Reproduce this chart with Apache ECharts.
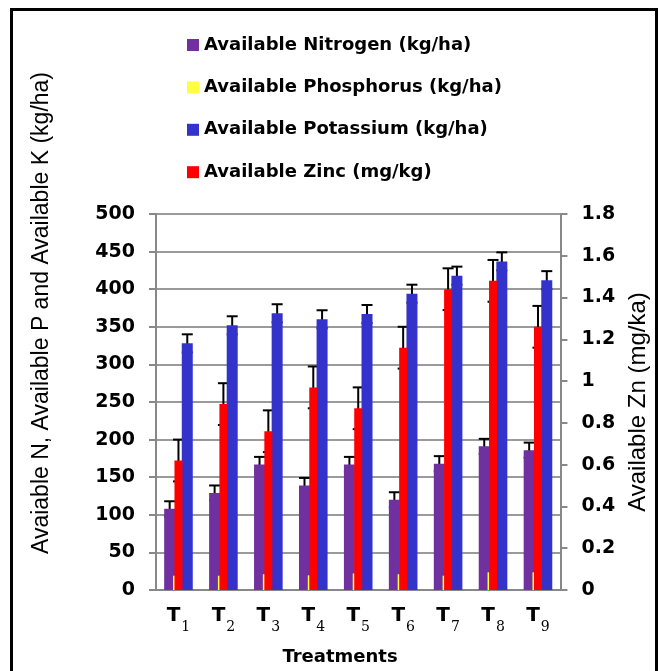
<!DOCTYPE html>
<html>
<head>
<meta charset="utf-8">
<script src="https://cdn.jsdelivr.net/npm/echarts@6/dist/echarts.min.js"></script>
<style>
  html, body { margin: 0; padding: 0; background: #fff; }
  #chart { width: 658px; height: 671px; }
</style>
</head>
<body>
<div id="chart"></div>
<script>
// ---- data ----
const categories = ['T1', 'T2', 'T3', 'T4', 'T5', 'T6', 'T7', 'T8', 'T9'];
const nitrogen   = [108, 129, 167, 139, 167, 120, 168, 191, 186];
const nitrogenErr = [10, 10, 10, 10, 10, 10, 10, 10, 10];
const phosphorus = [19, 19, 21, 19.5, 22, 21, 19, 23.5, 23.5];
const phosphorusErr = [2, 2, 2, 2, 2.5, 2, 2.5, 2, 2];
const potassium  = [328, 352, 368, 360, 367, 394, 418, 437, 412];
const potassiumErr = [12, 12, 12, 12, 12, 12, 12, 12, 12];
const zinc       = [0.62, 0.89, 0.76, 0.97, 0.87, 1.16, 1.44, 1.48, 1.26];
const zincErr    = [0.1, 0.1, 0.1, 0.1, 0.1, 0.1, 0.1, 0.1, 0.1];
const leftTicks  = { min: 0, max: 500, interval: 50 };
const rightTicks = { min: 0, max: 1.8, interval: 0.2 };
const seriesNames = [
  'Available Nitrogen (kg/ha)',
  'Available Phosphorus (kg/ha)',
  'Available Potassium (kg/ha)',
  'Available Zinc (mg/kg)'
];

// ---- styling ----
const BAR_W = 11, BAR_GAP = -0.2, ZN_W = 8;
const STEP = BAR_W * (1 + BAR_GAP);
const colors = ['#7030A0', '#FFFF40', '#3333CC', '#FF0000'];
const gridColor = '#9a9a9a';
const axisColor = '#888888';

function errData(vals, errs) {
  return vals.map((v, i) => [i, v - errs[i], v + errs[i]]);
}
function errRender(offset, half) {
  return function (params, api) {
    const lo = api.coord([api.value(0), api.value(1)]);
    const hi = api.coord([api.value(0), api.value(2)]);
    const cx = lo[0] + offset;
    const st = { stroke: '#000', lineWidth: 2 };
    return {
      type: 'group',
      children: [
        { type: 'line', shape: { x1: cx, y1: hi[1], x2: cx, y2: lo[1] }, style: st },
        { type: 'line', shape: { x1: cx - half, y1: hi[1], x2: cx + half, y2: hi[1] }, style: st },
        { type: 'line', shape: { x1: cx - half, y1: lo[1], x2: cx + half, y2: lo[1] }, style: st }
      ]
    };
  };
}

const chart = echarts.init(document.getElementById('chart'), null, { renderer: 'canvas' });
const option = {
  animation: false,
  backgroundColor: '#ffffff',
  grid: { left: 156, right: 86, top: 214, bottom: 81, containLabel: false },
  legend: {
    data: seriesNames,
    orient: 'vertical',
    left: 182,
    top: 30,
    icon: 'rect',
    itemWidth: 12,
    itemHeight: 12,
    itemGap: 22.4,
    textStyle: { fontFamily: 'DejaVu Sans', fontWeight: 'bold', fontSize: 18, lineHeight: 20, color: '#000' }
  },
  xAxis: [
    {
      type: 'category',
      data: categories,
      axisLine: { show: true, lineStyle: { color: axisColor, width: 2 } },
      axisTick: { show: false },
      axisLabel: {
        interval: 0,
        margin: 16,
        formatter: v => '{a|T}{b|' + v.slice(1) + '}',
        rich: {
          a: { fontFamily: 'DejaVu Sans', fontWeight: 'bold', fontSize: 20, lineHeight: 20, color: '#000' },
          b: { fontFamily: 'DejaVu Serif', fontSize: 14, lineHeight: 14, padding: [22, 0, 0, 1], color: '#000' }
        }
      }
    },
    {
      type: 'category',
      data: categories,
      show: false
    }
  ],
  yAxis: [
    {
      type: 'value',
      min: leftTicks.min, max: leftTicks.max, interval: leftTicks.interval,
      axisLine: { show: true, lineStyle: { color: axisColor, width: 2 } },
      axisTick: { show: true, length: 7, lineStyle: { color: axisColor, width: 2 } },
      splitLine: { show: true, lineStyle: { color: gridColor, width: 2 } },
      axisLabel: { margin: 21, fontFamily: 'DejaVu Sans', fontWeight: 'bold', fontSize: 19, color: '#000' }
    },
    {
      type: 'value',
      position: 'right',
      min: rightTicks.min, max: rightTicks.max, interval: rightTicks.interval,
      name: 'Available Zn (mg/ka)',
      nameLocation: 'middle',
      nameGap: 56,
      nameRotate: 90,
      nameTextStyle: { fontFamily: 'Liberation Sans', fontSize: 24, color: '#000' },
      axisLine: { show: true, lineStyle: { color: axisColor, width: 2 } },
      axisTick: { show: true, length: 7, lineStyle: { color: axisColor, width: 2 } },
      splitLine: { show: false },
      axisLabel: { margin: 21, fontFamily: 'DejaVu Sans', fontWeight: 'bold', fontSize: 19, color: '#000' }
    }
  ],
  graphic: [
    {
      type: 'rect', silent: true,
      shape: { x: 11.5, y: 9.5, width: 645, height: 720 },
      style: { fill: 'none', stroke: '#000', lineWidth: 3 }
    },
    {
      type: 'text', silent: true,
      x: 41.5, y: 313, rotation: Math.PI / 2,
      style: {
        text: 'Avaiable N, Available P and Available K (kg/ha)',
        fontFamily: 'Liberation Sans', fontSize: 23, fill: '#000',
        align: 'center', verticalAlign: 'middle'
      }
    },
    {
      type: 'text', silent: true,
      x: 340, y: 657,
      style: {
        text: 'Treatments',
        fontFamily: 'DejaVu Sans', fontWeight: 'bold', fontSize: 18, fill: '#000',
        align: 'center', verticalAlign: 'middle'
      }
    }
  ],
  series: [
    {
      name: seriesNames[0], type: 'bar', xAxisIndex: 0, yAxisIndex: 0,
      data: nitrogen, barWidth: BAR_W, barGap: (BAR_GAP * 100) + '%',
      itemStyle: { color: colors[0] }
    },
    {
      name: seriesNames[1], type: 'bar', xAxisIndex: 0, yAxisIndex: 0,
      data: phosphorus, barWidth: BAR_W, barGap: (BAR_GAP * 100) + '%',
      itemStyle: { color: colors[1] }
    },
    {
      name: seriesNames[2], type: 'bar', xAxisIndex: 0, yAxisIndex: 0,
      data: potassium, barWidth: BAR_W, barGap: (BAR_GAP * 100) + '%',
      itemStyle: { color: colors[2] }
    },
    {
      name: 'P err', type: 'custom', xAxisIndex: 0, yAxisIndex: 0,
      data: errData(phosphorus, phosphorusErr),
      renderItem: errRender(0, 5.5), silent: true
    },
    {
      name: seriesNames[3], type: 'bar', xAxisIndex: 1, yAxisIndex: 1,
      data: zinc, barWidth: ZN_W,
      itemStyle: { color: colors[3] }
    },
    {
      name: 'N err', type: 'custom', xAxisIndex: 0, yAxisIndex: 0,
      data: errData(nitrogen, nitrogenErr),
      renderItem: errRender(-STEP, 5.5), silent: true
    },
    {
      name: 'K err', type: 'custom', xAxisIndex: 0, yAxisIndex: 0,
      data: errData(potassium, potassiumErr),
      renderItem: errRender(STEP, 5.5), silent: true
    },
    {
      name: 'Zn err', type: 'custom', xAxisIndex: 1, yAxisIndex: 1,
      data: errData(zinc, zincErr),
      renderItem: errRender(0, 5.5), silent: true
    }
  ]
};
chart.setOption(option);
</script>
</body>
</html>
